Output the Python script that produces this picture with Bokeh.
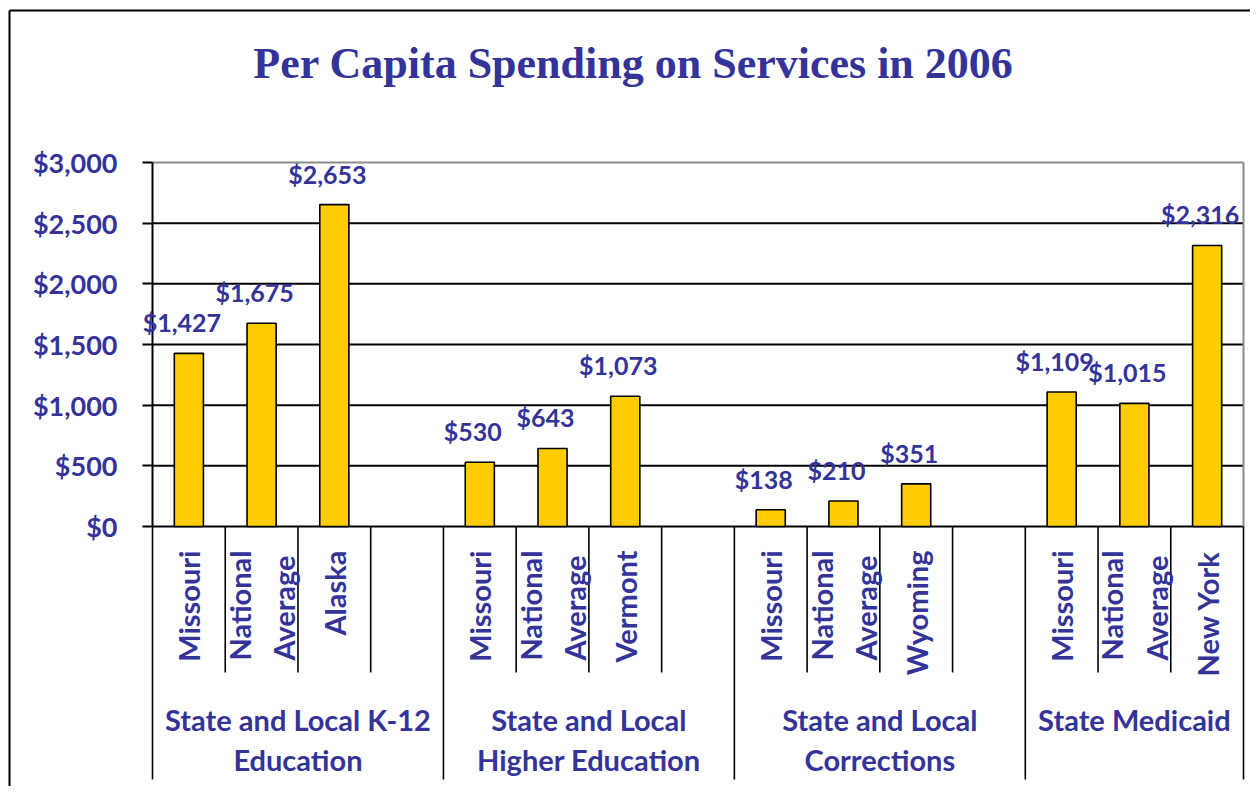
import math
from bokeh.plotting import figure
from bokeh.models import (ColumnDataSource, LabelSet, Range1d, FixedTicker,
                          NumeralTickFormatter, LinearAxis)
from bokeh.embed import file_html
from bokeh.resources import INLINE
from bokeh.core.properties import value

# ---------------- data ----------------
title_text = "Per Capita Spending on Services in 2006"
groups = ["State and Local K-12\nEducation",
          "State and Local\nHigher Education",
          "State and Local\nCorrections",
          "State Medicaid"]
items_k12 = ["Missouri", "National\nAverage", "Alaska"]
items_higher = ["Missouri", "National\nAverage", "Vermont"]
items_corr = ["Missouri", "National\nAverage", "Wyoming"]
items_medicaid = ["Missouri", "National\nAverage", "New York"]
values_k12 = [1427, 1675, 2653]
values_higher = [530, 643, 1073]
values_corr = [138, 210, 351]
values_medicaid = [1109, 1015, 2316]
y_ticks = [0, 500, 1000, 1500, 2000, 2500, 3000]

items = [items_k12, items_higher, items_corr, items_medicaid]
values = [values_k12, values_higher, values_corr, values_medicaid]

# ---------------- layout geometry (canvas pixels) ----------------
W, H = 1250, 786
PLOT_L, PLOT_R = 152, 1243       # plot area left / right
ZERO_Y, TOP_Y = 526, 162         # $0 and $3,000 lines
SLOT_PX = (PLOT_R - PLOT_L) / 15.0
UNIT_PX = (ZERO_Y - TOP_Y) / 3000.0

def px_x(px):
    return (px - PLOT_L) / SLOT_PX

def px_y(px):
    return (ZERO_Y - px) / UNIT_PX

TEXT = "#333399"
FONT = "Lato"

# slots: each group takes its bars plus one empty slot (except the last)
group_start = []
s = 0
for g, vals in enumerate(values):
    group_start.append(s)
    s += len(vals) + (1 if g < len(values) - 1 else 0)
n_slots = s
group_end = group_start[1:] + [n_slots]

bar_x, bar_top, bar_lbl, item_lbl = [], [], [], []
for g, vals in enumerate(values):
    for i, v in enumerate(vals):
        bar_x.append(group_start[g] + i + 0.5)
        bar_top.append(v)
        bar_lbl.append("${:,}".format(v))
        item_lbl.append(items[g][i])

bars = ColumnDataSource(dict(x=bar_x, top=bar_top, lbl=bar_lbl, item=item_lbl,
                             zero=[0] * len(bar_x)))

p = figure(width=W, height=H, output_backend="svg", toolbar_location=None,
           x_range=Range1d(px_x(0), px_x(W)), y_range=Range1d(px_y(H), px_y(0)),
           x_axis_location=None, y_axis_location=None,
           min_border_left=0, min_border_right=0, min_border_top=0, min_border_bottom=0)
p.grid.visible = False
p.outline_line_color = None
p.background_fill_color = "white"
p.border_fill_color = "white"

ax = LinearAxis(fixed_location=0)
ax.ticker = FixedTicker(ticks=y_ticks)
ax.formatter = NumeralTickFormatter(format="$0,0")
ax.bounds = (y_ticks[0], y_ticks[-1])
ax.axis_line_color = "black"
ax.axis_line_width = 2
ax.major_tick_out = 10
ax.major_tick_in = 0
ax.major_tick_line_width = 2
ax.major_tick_line_color = "black"
ax.minor_tick_line_color = None
ax.major_label_text_font = FONT
ax.major_label_text_font_style = "bold"
ax.major_label_text_font_size = "27px"
ax.major_label_text_color = TEXT
ax.major_label_standoff = 25
p.add_layout(ax, "left")

# outer chart border (left and top)
p.segment(x0=[px_x(9), px_x(9)], x1=[px_x(9), px_x(W + 20)],
          y0=[px_y(10), px_y(10)], y1=[px_y(H + 20), px_y(10)],
          line_color="black", line_width=2)

# gridlines
inner = [t for t in y_ticks if t != y_ticks[-1]]
p.segment(x0=[0] * len(inner), x1=[n_slots] * len(inner), y0=inner, y1=inner,
          line_color="black", line_width=2)
# plot-area border (top and right)
p.segment(x0=[0, n_slots], x1=[n_slots, n_slots], y0=[y_ticks[-1], 0],
          y1=[y_ticks[-1], y_ticks[-1]], line_color="#8c8c8c", line_width=2)

# category separators
long_x = sorted(set(group_start + [n_slots]))
short_x = [k for k in range(n_slots + 1) if k not in long_x]
p.segment(x0=long_x, x1=long_x, y0=[0] * len(long_x), y1=[px_y(779)] * len(long_x),
          line_color="black", line_width=1.6)
p.segment(x0=short_x, x1=short_x, y0=[0] * len(short_x), y1=[px_y(672)] * len(short_x),
          line_color="black", line_width=1.6)

# bars
p.vbar(x="x", top="top", bottom=0, width=0.4, source=bars,
       fill_color="#FFCC00", line_color="black", line_width=1.6)

# value labels
p.add_layout(LabelSet(x="x", y="top", text="lbl", source=bars, x_offset=-7, y_offset=31,
                      text_align="center", text_baseline="middle",
                      text_font=value(FONT), text_font_style="bold",
                      text_font_size="25px", text_color=TEXT))

# item labels (rotated)
p.add_layout(LabelSet(x="x", y="zero", text="item", source=bars, y_offset=-24,
                      angle=math.pi / 2, text_align="right", text_baseline="middle",
                      text_font=value(FONT), text_font_style="bold",
                      text_font_size="29px", text_color=TEXT, text_line_height=1.28))

# group labels
gx, gy, gt = [], [], []
for g, name in enumerate(groups):
    for k, line in enumerate(name.split("\n")):
        gx.append((group_start[g] + group_end[g]) / 2.0)
        gy.append(px_y(719 + 40 * k))
        gt.append(line)
gsrc = ColumnDataSource(dict(x=gx, y=gy, t=gt))
p.text(x="x", y="y", text="t", source=gsrc, text_align="center", text_baseline="middle",
       text_font=value(FONT), text_font_style="bold", text_font_size="29px",
       text_color=TEXT)

# title
p.text(x=[px_x(633)], y=[px_y(63)], text=[title_text],
       text_align="center", text_baseline="middle",
       text_font=value("Liberation Serif"), text_font_style="bold",
       text_font_size="44px", text_color=TEXT)

open("out.html", "w").write(file_html(p, INLINE))
